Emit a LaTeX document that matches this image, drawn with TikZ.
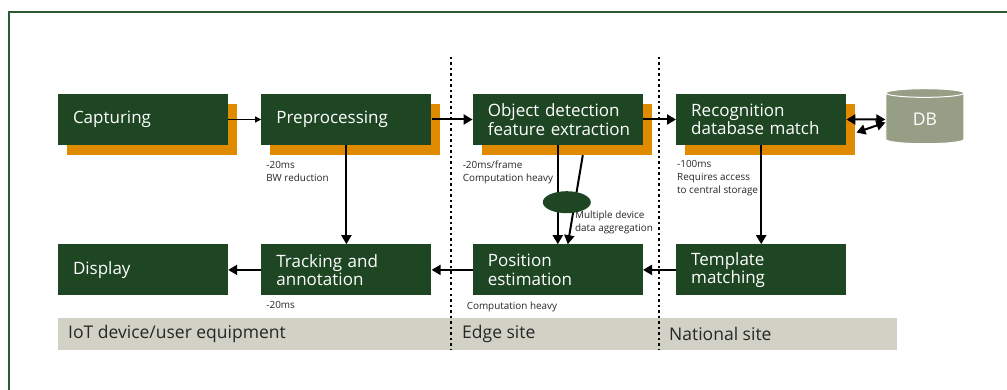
\documentclass[tikz,border=0pt]{standalone}
\usepackage{fontspec}
\setmainfont{Open Sans}
\usetikzlibrary{arrows.meta, shapes, shadows, positioning, calc}

\definecolor{stagegreen}{HTML}{1E4623}
\definecolor{stageorange}{HTML}{E08A00}
\definecolor{dbgray}{HTML}{969E86}
\definecolor{bandgray}{HTML}{D1D2C5}
\definecolor{framegreen}{HTML}{2B5A33}
\definecolor{notegray}{HTML}{262626}

\newcommand{\stagefont}{\fontsize{17}{18.5}\selectfont\hyphenpenalty=10000\relax}

\begin{document}
\begin{tikzpicture}
            [x=1pt, y=-1pt, >={Triangle[length=9pt,width=10pt]}, node distance=33pt,
            stage/.style={rectangle, fill=stagegreen, text=white, minimum height=51pt,
              text width=140pt, inner xsep=15pt, align=left, font=\stagefont},
            shadowed/.style={drop shadow={shadow xshift=9pt, shadow yshift=-10pt,
              fill=stageorange, opacity=1}},
            database/.style={cylinder, shape border rotate=90, aspect=0.28, fill=dbgray,
              draw=white, line width=1pt, minimum width=78pt, minimum height=55pt,
              text=white, font=\fontsize{17.5}{18}\selectfont},
            aggr/.style={ellipse, fill=stagegreen, minimum width=48pt, minimum height=22pt, inner sep=0pt},
            note/.style={align=left, inner sep=0pt, text=notegray, font=\fontsize{9.9}{13}\selectfont},
            site/.style={anchor=west, inner sep=0pt, text=notegray, font=\fontsize{17.5}{18}\selectfont},
            flow/.style={->, line width=2pt},
            border/.style={dash pattern=on 2.5pt off 3pt, line width=1.3pt}]

            \useasboundingbox (0,0) rectangle (1007,390);
            \draw[framegreen, line width=1.2pt] (1012,12) -- (9,12) -- (9,395);

            % sites
            \fill[bandgray] (58,318) rectangle (897,350);
            \node[site] (iot) at (68,334) {IoT device/user equipment};
            \node[site] (edge) at (462,334) {Edge site};
            \node[site] (national) at (669,334) {National site};
            \draw[border] (451,57) -- (451,350);
            \draw[border] (659,57) -- (659,350);

            \node[stage, shadowed] (cap) at (143,119.5) {Capturing};
            \node[stage, shadowed, right=of cap] (pre) {Preprocessing};
            \node[stage, shadowed, right=41pt of pre] (obj) {Object detection\\feature~extraction};
            \node[stage, shadowed, right=of obj] (rec) {Recognition\\database~match};
            \node[database, right=39pt of rec] (db) {DB};

            \node[stage, below=99pt of cap] (disp) {Display};
            \node[stage, below=99pt of pre] (trk) {Tracking and\\annotation};
            \node[stage, below=99pt of obj] (pos) {Position\\estimation};
            \node[stage, below=99pt of rec] (tmpl) {Template\\matching};

            \node[note, below right=16pt and 5pt of pre.south west] (prenote) {-20ms\\BW reduction};
            \node[note, below right=16pt and -10pt of obj.south west] (objnote) {-20ms/frame\\Computation heavy};
            \node[note, below right=15pt and 1pt of rec.south west] (recnote) {-100ms\\Requires access\\to central storage};
            \node[note, below right=6pt and 5pt of trk.south west] (trknote) {-20ms};
            \node[note, below right=6pt and -6pt of pos.south west] (posnote) {Computation heavy};

            \draw[->, >={Triangle[length=6pt,width=6pt]}, line width=1pt] (cap) -- (pre);
            \draw[flow] (pre) -- (obj);
            \draw[flow] (obj) -- (rec);
            \draw[flow, <->] (rec) -- (db);
            \draw[flow, <->] ([xshift=10pt, yshift=-13pt]rec.east) -- ([yshift=-3pt]db.west);
            \draw[flow] (pre) -- (trk);
            \draw[flow] (rec) -- (tmpl);
            \draw[flow] (trk) -- (disp);
            \draw[flow] (pos) -- (trk);
            \draw[flow] (tmpl) -- (pos);
            \draw[flow] (obj) -- (pos);
            \draw[flow] ([xshift=25pt, yshift=-10pt]obj.south) -- ([xshift=10pt]pos.north);

            \node[aggr] (agg) at ($(obj.south)+(9,57)$) {};
            \node[note, below right=1pt and -9pt of agg.south east] (aggnote) {Multiple device\\data aggregation};

          \end{tikzpicture}
\end{document}
